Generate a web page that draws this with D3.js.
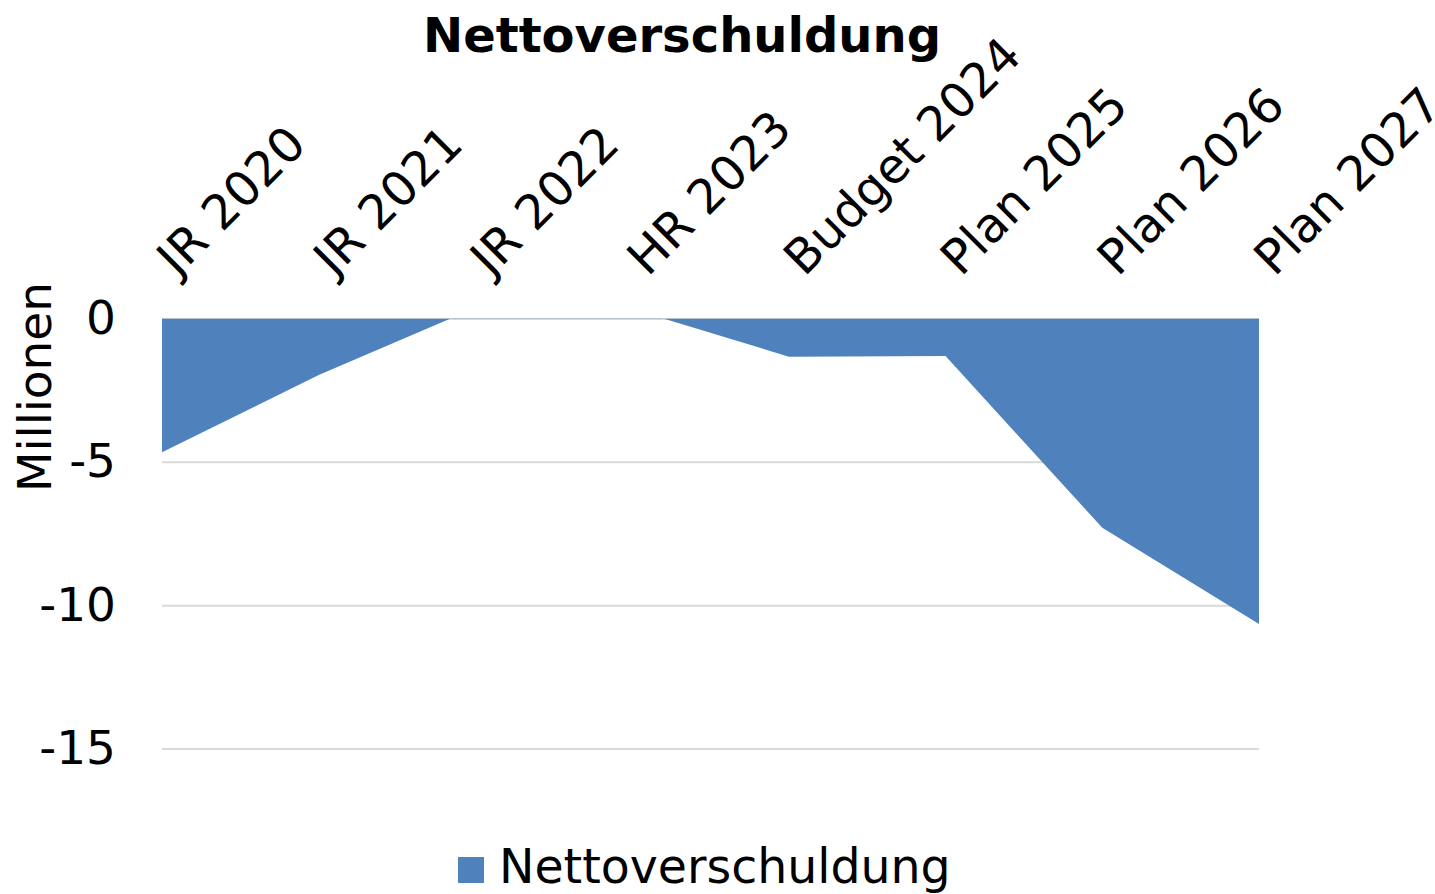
<!DOCTYPE html>
<html>
<head>
<meta charset="utf-8">
<script src="https://cdn.jsdelivr.net/npm/d3@7"></script>
<style>
  html, body { margin: 0; padding: 0; background: #fff; }
  svg { display: block; }
  text { font-family: "DejaVu Sans", Verdana, sans-serif; fill: #000; }
</style>
</head>
<body>
<svg id="chart" width="1435" height="894"></svg>
<script>
const categories = ["JR 2020", "JR 2021", "JR 2022", "HR 2023", "Budget 2024", "Plan 2025", "Plan 2026", "Plan 2027"];
const values = [-4.67, -1.97, 0.37, 0.33, -1.33, -1.31, -7.30, -10.66];
const yTicks = [0, -5, -10, -15];
const seriesName = "Nettoverschuldung";
const chartTitle = "Nettoverschuldung";
const yAxisTitle = "Millionen";

(function () {
const svg = d3.select("#chart");
const pLeft = 162, pRight = 1259, pTop = 318.5, pBottom = 748.5;

const x = d3.scalePoint().domain(categories).range([pLeft, pRight]);
const y = d3.scaleLinear().domain([-15, 0]).range([pBottom, pTop]);

// clip
svg.append("defs").append("clipPath").attr("id", "plotclip")
  .append("rect").attr("x", pLeft).attr("y", pTop).attr("width", pRight - pLeft).attr("height", pBottom - pTop);

// gridlines
svg.append("g")
  .attr("transform", `translate(${pLeft},0)`)
  .call(d3.axisLeft(y).tickValues(yTicks).tickSize(-(pRight - pLeft)).tickFormat(""))
  .call(g => g.select(".domain").remove())
  .call(g => g.selectAll("line").attr("stroke", "#D9D9D9").attr("stroke-width", 2));

// area
const data = categories.map((c, i) => ({ c, v: values[i] }));
const area = d3.area()
  .x(d => x(d.c))
  .y0(y(0))
  .y1(d => y(d.v));
svg.append("path")
  .datum(data)
  .attr("clip-path", "url(#plotclip)")
  .attr("fill", "#4F81BD")
  .attr("d", area);

// y axis labels
svg.append("g")
  .attr("transform", `translate(116,0)`)
  .call(d3.axisLeft(y).tickValues(yTicks).tickSize(0).tickPadding(0).tickFormat(d => String(d)))
  .call(g => g.select(".domain").remove())
  .call(g => g.selectAll("text").attr("font-size", 47).attr("font-family", "DejaVu Sans, Verdana, sans-serif").attr("fill", "#000"));

// x axis labels (rotated, above plot)
svg.append("g")
  .attr("transform", `translate(0,${y(0)})`)
  .call(d3.axisTop(x).tickSize(0).tickFormat(d => d))
  .call(g => g.select(".domain").remove())
  .call(g => g.selectAll("text")
    .attr("font-size", 48)
    .attr("font-family", "DejaVu Sans, Verdana, sans-serif")
    .attr("fill", "#000")
    .attr("text-anchor", "start")
    .attr("x", 0).attr("y", 0).attr("dy", 0)
    .attr("transform", "translate(15,-41) rotate(-45)"));

// title
svg.append("text")
  .attr("x", 682).attr("y", 52)
  .attr("text-anchor", "middle")
  .attr("font-size", 48)
  .attr("font-weight", "bold")
  .text(chartTitle);

// y axis title
svg.append("text")
  .attr("transform", "translate(51,387) rotate(-90)")
  .attr("text-anchor", "middle")
  .attr("font-size", 47)
  .text(yAxisTitle);

// legend
const legend = svg.append("g");
legend.append("rect")
  .attr("x", 458).attr("y", 857).attr("width", 26).attr("height", 26)
  .attr("fill", "#4F81BD");
legend.append("text")
  .attr("x", 499).attr("y", 883)
  .attr("font-size", 47.4)
  .text(seriesName);
})();
</script>
</body>
</html>
